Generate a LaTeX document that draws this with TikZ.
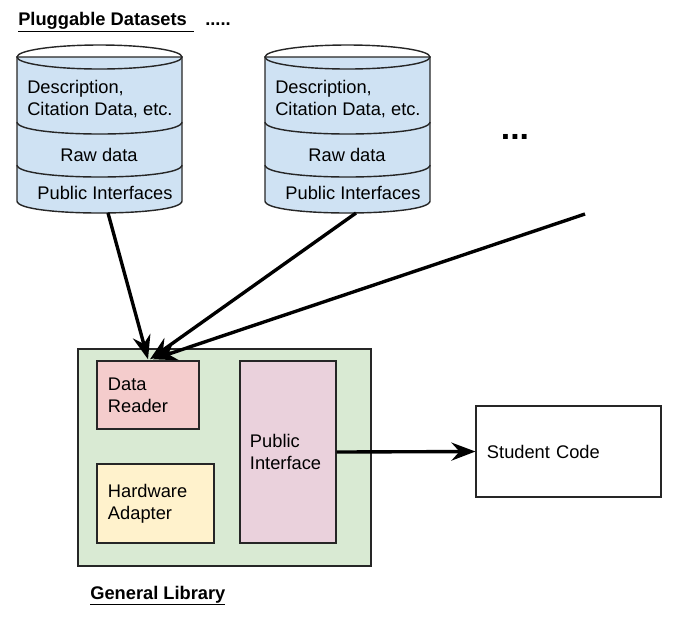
\documentclass[tikz,border=0pt]{standalone}
\usepackage{fontspec}
\setmainfont{Liberation Sans}
\usepackage{tikz}
\usetikzlibrary{arrows.meta,positioning,calc}
\definecolor{dsBlue}{HTML}{CFE2F3}
\definecolor{libGreen}{HTML}{D9EAD3}
\definecolor{readerRed}{HTML}{F4CCCC}
\definecolor{adapterYel}{HTML}{FFF2CC}
\definecolor{ifacePink}{HTML}{EAD1DC}
\newcommand{\diafont}{\fontsize{13}{15.5}\selectfont}
\tikzset{
  libbox/.style={draw=black!85, line width=1pt, align=left, font=\diafont, inner xsep=0.27cm, inner ysep=0pt, fill=#1},
  dslabel/.style={font=\diafont, inner sep=0pt, align=left},
  heading/.style={font=\diafont\bfseries, inner sep=0pt, anchor=base west},
  arrflow/.style={-{Stealth[length=6mm, width=4.5mm, inset=2mm]}, line width=2.4pt},
  cylline/.style={draw=black!85, line width=1pt},
}
\begin{document}
\begin{tikzpicture}[x=0.025cm, y=-0.025cm]
\useasboundingbox (0,0) rectangle (692,621);

% Datasets
\node[heading] (dstitle) at (18,25) {\underline{Pluggable Datasets\hspace{5pt}}};
\node[heading] (dsdots) at (205,25) {.....};
\foreach \cx/\id in {17/a, 265/b} {
  \path[cylline, fill=dsBlue] (\cx,57) -- (\cx,201) .. controls (\cx,217) and (\cx+165,217) .. (\cx+165,201) -- (\cx+165,57) -- cycle;
  \draw[cylline] (\cx+82.5,57) ellipse [x radius=82.5, y radius=12];
  \draw[cylline] (\cx,122) .. controls (\cx,138) and (\cx+165,138) .. (\cx+165,122);
  \draw[cylline] (\cx,165) .. controls (\cx,181) and (\cx+165,181) .. (\cx+165,165);
  \node[dslabel, anchor=west] (desc\id) at (\cx+10,99) {Description,\\Citation Data, etc.};
  \node[dslabel] (raw\id) at (\cx+82,155) {Raw data};
  \node[dslabel] (pub\id) at (\cx+88,193) {Public Interfaces};
  \coordinate (bot\id) at (\cx+91,213);
}
\node[font=\fontsize{24}{28}\selectfont\bfseries, inner sep=0pt, anchor=base] (moredots) at (515,139) {...};
\coordinate (moreds) at (585,214);

% General Library
\node[libbox=libGreen, minimum width=7.325cm, minimum height=5.425cm] (lib) at (224.5,457.5) {};
\node[libbox=readerRed, text width=2.0cm, minimum height=1.7cm] (dr) at (148,395) {Data\\Reader};
\node[libbox=adapterYel, text width=2.375cm, minimum height=1.975cm] (hw) at (155.5,503.5) {Hardware\\Adapter};
\node[libbox=ifacePink, inner xsep=0.25cm, text width=1.9cm, minimum height=4.55cm] (pi) at (288,452) {Public\\Interface};
\node[heading] (libtitle) at (90,599) {\underline{General Library}};

% Student
\node[libbox=white, text width=4.075cm, minimum height=2.275cm] (sc) at (568.5,451.5) {Student Code};

% Arrows
\draw[arrflow] (bota) -- ($(dr.north)+(0,-1)$);
\draw[arrflow] (botb) -- ($(dr.north)+(2,-1)$);
\draw[arrflow] (moreds) -- ($(dr.north)+(5,-1)$);
\draw[arrflow] (pi.east) -- (sc.west);
\end{tikzpicture}
\end{document}
